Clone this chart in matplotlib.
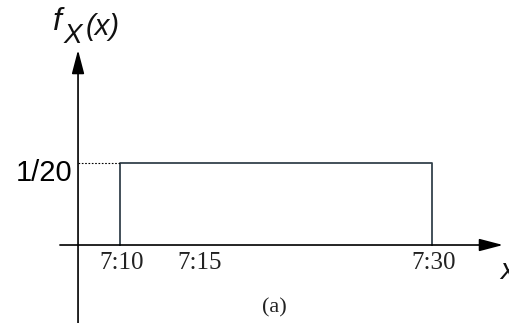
import matplotlib.pyplot as plt

# uniform density of arrival time (minutes after 7:00)
t_start = 10
t_end = 30
density = 1 / 20
tick_pos = [10, 15, 30]
tick_labels = ["7:10", "7:15", "7:30"]

fig = plt.figure(figsize=(5.10, 3.23), dpi=100)
ax = fig.add_axes([0, 0, 1, 1])
ax.set_xlim(2.308, 35.0)
ax.set_ylim(-0.04756, 0.1494)
ax.axis("off")

line_c = "#34424c"
arrow = dict(arrowstyle="-|>,head_length=1.45,head_width=0.38",
             color="black", lw=1.2, shrinkA=0, shrinkB=0)

# axes with arrows
ax.annotate("", xy=(34.55, 0), xytext=(6.15, 0), arrowprops=arrow)
ax.annotate("", xy=(7.31, 0.1189), xytext=(7.31, -0.06), arrowprops=arrow)

# the density box
ax.plot([t_start, t_start, t_end, t_end], [0, density, density, 0],
        color=line_c, lw=1.3)
ax.plot([7.31, t_start], [density, density], color="black", lw=0.8,
        linestyle=(0, (1.5, 1.5)))

ax.text(6.92, 0.0442, "1/20", fontsize=21, ha="right", va="center",
        family="Liberation Sans")
for p, lab in zip(tick_pos, tick_labels):
    ax.text(p + 0.12, -0.011, lab, fontsize=18, ha="center", va="center",
            family="Liberation Serif", color="#222222")

# f_X(x) label, pieced together so the subscript stays large
lab_font = dict(family="Liberation Sans", style="italic", va="center",
                ha="left", color="#111111")
ax.text(5.70, 0.1360, "f", fontsize=23, **lab_font)
ax.text(6.40, 0.1275, "X", fontsize=20, **lab_font)
ax.text(7.80, 0.1328, "(x)", fontsize=21, **lab_font)

ax.text(34.36, -0.0159, "x", fontsize=21, **lab_font)
ax.text(19.9, -0.0384, "(a)", fontsize=16, ha="center", va="center",
        family="Liberation Serif", color="#222222")

fig.savefig("out.png", dpi=100)
